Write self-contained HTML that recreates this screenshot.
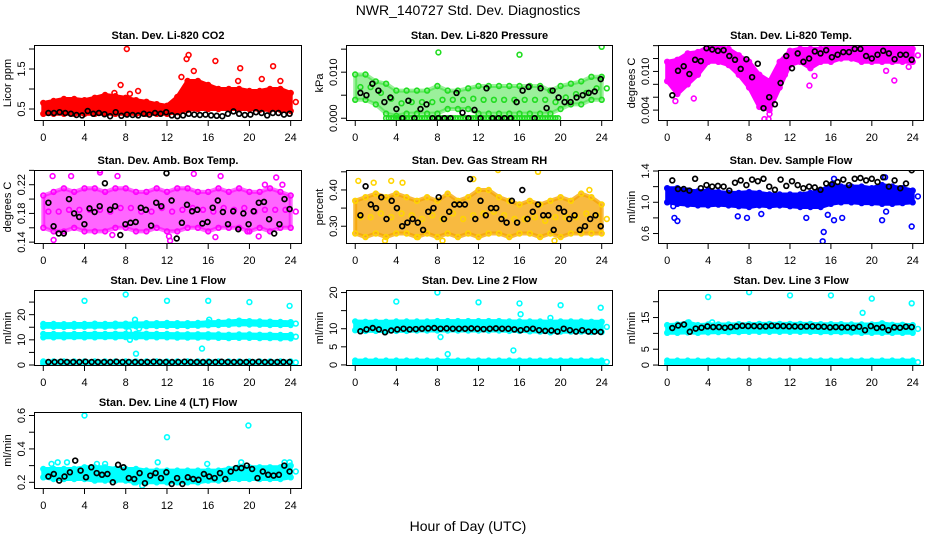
<!DOCTYPE html>
<html><head><meta charset="utf-8"><title>NWR_140727 Std. Dev. Diagnostics</title>
<style>
html,body{margin:0;padding:0;background:#fff;}
svg{display:block;font-family:"Liberation Sans",Arial,sans-serif;}
</style></head>
<body>
<svg id="chart" width="936" height="540" viewBox="0 0 936 540">
<text x="468" y="15" font-size="14" text-anchor="middle">NWR_140727  Std. Dev. Diagnostics</text>
<text x="468" y="531" font-size="14" text-anchor="middle">Hour of Day (UTC)</text>
</svg>
<script>
// ---------- data ----------
const HOURS = [0,1,2,3,4,5,6,7,8,9,10,11,12,13,14,15,16,17,18,19,20,21,22,23,24];
const X_TICKS = [0,4,8,12,16,20,24];

const co2Lo = [0.38,0.38,0.38,0.38,0.38,0.38,0.38,0.38,0.38,0.38,0.38,0.38,0.38,0.42,0.48,0.5,0.5,0.5,0.5,0.5,0.5,0.48,0.48,0.48,0.45];
const co2Hi = [0.65,0.7,0.75,0.75,0.72,0.78,0.85,0.82,0.78,0.72,0.68,0.62,0.58,0.8,1.2,1.2,1.1,1.0,1.0,1.0,0.95,0.95,1.0,1.0,0.9];
const co2OutX = [8.1,14.1,13.9,16.7,22.3,19.1,13.4,7.5,9.2,21.2,23,14.6,8.4,6.9,18.9];
const co2OutY = [2.0,1.85,1.75,1.7,1.57,1.52,1.3,1.1,0.95,1.25,1.2,1.45,0.88,0.9,1.2];
const co2Black = [0.4,0.4,0.42,0.4,0.38,0.35,0.34,0.45,0.38,0.4,0.37,0.32,0.42,0.33,0.36,0.35,0.34,0.38,0.36,0.4,0.38,0.42,0.34,0.32,0.34,0.38,0.36,0.35,0.36,0.34,0.33,0.32,0.38,0.44,0.38,0.35,0.36,0.42,0.4,0.34,0.4,0.4,0.36,0.38];

const presLo = [0.004,0.004,0.003,0.001,0.0005,0.001,0.001,0.001,0.001,0.002,0.002,0.002,0.001,0.001,0.001,0.001,0.001,0.001,0.001,0.001,0.002,0.003,0.003,0.004,0.004];
const presHi = [0.0095,0.0095,0.008,0.0075,0.006,0.006,0.006,0.006,0.007,0.006,0.006,0.0065,0.007,0.007,0.007,0.007,0.007,0.007,0.007,0.006,0.007,0.0075,0.008,0.009,0.009];
const presZero = [null,null,null,0,0,0,0,0,0,0,0,0,0,0,0,0,0,0,0,0,null,null,null,null,null];
const presOutX = [8.1,16,24];
const presOutY = [0.0143,0.0138,0.0155];
const presBlack = [0.0055,0.005,0.0075,0.006,0.0035,0.0045,0.002,0,0.0038,0,0.002,0.003,0,0,0,0,0.0055,0.0012,0,0.0018,0,0.0065,0,0,0,0,0.0035,0.006,0.0068,0,0.0065,0.0022,0.006,0.0045,0.0035,0.0035,0.0045,0.005,0.0055,0.0058,0.0085];

const tempLo = [0.0085,0.0065,0.008,0.0095,0.0115,0.0115,0.011,0.0095,0.0075,0.0045,0.004,0.0075,0.011,0.0115,0.0105,0.0115,0.0115,0.012,0.012,0.0115,0.0115,0.0115,0.0115,0.0115,0.0115];
const tempHi = [0.0115,0.0118,0.0128,0.013,0.0138,0.0138,0.0135,0.0125,0.0115,0.0095,0.0085,0.0115,0.0132,0.0135,0.0135,0.0135,0.0138,0.0138,0.014,0.014,0.014,0.014,0.014,0.014,0.0135];
const tempOutX = [9.5,9.9,10,0.8,2.6,14.4,13.9,21.4,22.2,23.6];
const tempOutY = [0.0026,0.0026,0.0034,0.0054,0.0058,0.0093,0.0078,0.0101,0.0086,0.0107];
const tempBlack = [0.0063,0.0101,0.0108,0.0096,0.0118,0.0116,0.0136,0.0134,0.0132,0.0133,0.0124,0.0118,0.0104,0.0119,0.0091,0.0112,0.0043,0.0060,0.0049,0.0082,0.0124,0.0105,0.0128,0.0115,0.0120,0.0131,0.0128,0.0133,0.0122,0.0126,0.0130,0.0130,0.0135,0.0135,0.0124,0.0120,0.0126,0.0132,0.0128,0.0119,0.0126,0.0126,0.0118];

const ambLo = [0.16,0.155,0.155,0.16,0.155,0.155,0.155,0.16,0.16,0.155,0.155,0.16,0.155,0.155,0.16,0.16,0.155,0.16,0.16,0.16,0.155,0.16,0.155,0.16,0.16];
const ambHi = [0.205,0.21,0.215,0.21,0.215,0.215,0.21,0.215,0.215,0.21,0.21,0.215,0.21,0.215,0.215,0.21,0.21,0.215,0.21,0.215,0.21,0.21,0.215,0.21,0.205];
const ambOutX = [1,0.9,2.7,5.5,5.5,6.7,7.2,12.3,12.2,14.6,16.7,17.2,19.8,21.5,22.6,23.2,20.9];
const ambOutY = [0.143,0.232,0.232,0.237,0.24,0.15,0.232,0.142,0.148,0.235,0.147,0.232,0.155,0.22,0.23,0.22,0.148];
const ambBlack = [0.195,0.162,0.152,0.152,0.200,0.180,0.175,0.165,0.187,0.182,0.190,0.222,0.185,0.190,0.150,0.165,0.167,0.168,0.188,0.185,0.163,0.195,0.190,0.236,0.198,0.145,0.167,0.192,0.183,0.185,0.166,0.168,0.188,0.198,0.182,0.165,0.183,0.158,0.180,0.165,0.183,0.195,0.196,0.172,0.152,0.165,0.200,0.186];

const rhLo = [0.28,0.27,0.28,0.27,0.28,0.28,0.27,0.28,0.27,0.28,0.27,0.28,0.27,0.28,0.28,0.27,0.28,0.28,0.27,0.28,0.27,0.28,0.28,0.28,0.28];
const rhHi = [0.37,0.38,0.39,0.38,0.39,0.38,0.37,0.38,0.37,0.39,0.37,0.38,0.4,0.4,0.38,0.37,0.36,0.37,0.36,0.37,0.38,0.37,0.39,0.38,0.36];
const rhOutX = [0.3,1.8,3.5,2.9,8.5,13.9,17.8,19.4,11.5,6.1,4.6,22.8];
const rhOutY = [0.425,0.42,0.425,0.26,0.26,0.455,0.45,0.26,0.43,0.27,0.42,0.4];
const rhBlack = [0.33,0.41,0.36,0.35,0.38,0.32,0.37,0.35,0.30,0.31,0.32,0.31,0.29,0.34,0.35,0.38,0.32,0.34,0.36,0.36,0.36,0.43,0.32,0.37,0.33,0.35,0.35,0.32,0.31,0.37,0.31,0.40,0.32,0.34,0.36,0.33,0.33,0.29,0.35,0.34,0.32,0.33,0.29,0.30,0.32,0.33,0.30];

const flowLo = [1.0,0.98,0.97,0.96,0.96,0.97,0.96,0.95,0.94,0.96,0.95,0.96,0.95,0.94,0.94,0.94,0.98,1.0,1.0,0.99,0.99,0.98,0.98,0.99,1.0];
const flowHi = [1.18,1.18,1.15,1.14,1.15,1.13,1.12,1.12,1.13,1.12,1.1,1.1,1.1,1.1,1.12,1.15,1.22,1.2,1.2,1.2,1.18,1.22,1.2,1.18,1.15];
const flowOutX = [0.7,1,6.9,7.8,9.2,13.6,15.3,15.2,15.7,16.3,17.1,21,21.4,23.9,21.3,16.3,0.6];
const flowOutY = [0.8,0.76,0.82,0.8,0.85,0.8,0.62,0.5,0.84,0.77,0.8,0.77,0.88,0.69,1.32,1.3,0.95];
const flowBlack = [1.28,1.17,1.17,1.15,1.3,1.18,1.22,1.2,1.21,1.2,1.15,1.25,1.28,1.22,1.29,1.27,1.3,1.2,1.16,1.29,1.21,1.27,1.22,1.18,1.2,1.19,1.16,1.24,1.23,1.26,1.29,1.22,1.3,1.31,1.28,1.3,1.26,1.32,1.2,1.28,1.18,1.24,1.41];

const l1UpLo = [15.2,15.2,15.1,15.2,15.2,15.3,15.2,15.3,15.3,15.4,15.4,15.5,15.5,15.5,15.5,15.6,15.8,15.9,16.0,16.2,16.1,16.0,15.9,15.9,15.9];
const l1UpHi = [16.3,16.3,16.2,16.3,16.3,16.4,16.3,16.4,16.4,16.5,16.6,16.6,16.7,16.6,16.6,16.7,17.0,17.1,17.3,17.6,17.4,17.3,17.2,17.1,17.0];
const l1MidLo = [11.0,11.0,11.0,11.1,11.0,11.0,11.1,11.0,11.1,11.0,11.0,11.0,11.0,10.9,10.9,10.9,10.9,10.8,10.7,10.8,10.8,10.7,10.7,10.6,10.6];
const l1MidHi = [12.3,12.3,12.2,12.3,12.3,12.4,12.3,12.4,12.4,12.4,12.4,12.3,12.3,12.2,12.2,12.2,12.2,12.1,12.0,12.1,12.1,12.0,12.0,11.9,11.9];
const l1LowLo = [0.6,0.6,0.6,0.6,0.6,0.6,0.6,0.6,0.6,0.6,0.6,0.6,0.6,0.6,0.6,0.6,0.6,0.6,0.6,0.6,0.6,0.6,0.6,0.6,0.6];
const l1LowHi = [1.4,1.4,1.4,1.4,1.4,1.4,1.4,1.4,1.4,1.4,1.4,1.4,1.4,1.4,1.4,1.4,1.4,1.4,1.4,1.4,1.4,1.4,1.4,1.4,1.4];
const l1OutX = [4,8,8.9,12,16,20,23.9,8.4,9,15.4,16.1,8.3,9.3];
const l1OutY = [25.5,28,18,25.5,25.5,25,23.5,10,4.5,6.5,18,13.5,14.5];
const l1Black = [1.2,1.2,1.3,1.2,1.2,1.2,1.3,1.2,1.2,1.2,1.2,1.3,1.2,1.2,1.2,1.2,1.2,1.3,1.2,1.2,1.2,1.2,1.3,1.2,1.2,1.2,1.2,1.2,1.3,1.2,1.2,1.2,1.2,1.2,1.3,1.2,1.2,1.2,1.2,1.2];

const l2UpLo = [9.6,9.4,9.4,9.3,9.4,9.4,9.5,9.5,9.5,9.5,9.5,9.5,9.5,9.5,9.5,9.4,9.4,9.3,9.2,9.0,9.2,9.2,9.2,9.1,9.1];
const l2UpHi = [12.0,11.9,11.9,11.9,12.0,12.0,12.0,12.0,12.1,12.1,12.1,12.1,12.1,12.1,12.1,12.0,12.0,12.0,12.0,11.9,12.0,12.0,12.0,11.9,11.9];
const l2LowLo = [0.4,0.4,0.4,0.4,0.4,0.4,0.4,0.4,0.4,0.4,0.4,0.4,0.4,0.4,0.4,0.4,0.4,0.4,0.4,0.4,0.4,0.4,0.4,0.4,0.4];
const l2LowHi = [1.2,1.2,1.2,1.2,1.2,1.2,1.2,1.2,1.2,1.2,1.2,1.2,1.2,1.2,1.2,1.2,1.2,1.2,1.2,1.2,1.2,1.2,1.2,1.2,1.2];
const l2OutX = [4,8,12,16,20,23.9,8.3,9,15.4,16.1,19];
const l2OutY = [17.5,20,17.3,17,16.5,15.8,7.7,3,4,14,13];
const l2Black = [9.3,9.8,10.2,9.8,9.0,9.5,9.8,10,9.8,9.9,10,10.1,10.2,10,10.1,10,10,10,10.1,10,9.9,10,10.1,10,10,9.8,9.6,9.9,10,9.6,9.4,9.5,9.2,10,9.6,9.2,9.6,9.2,9.2,9.1];

const l3UpLo = [10.2,10.2,10.3,10.2,10.3,10.4,10.4,10.4,10.5,10.5,10.5,10.5,10.5,10.5,10.5,10.4,10.4,10.4,10.3,10.2,10.2,10.2,10.2,10.2,10.2];
const l3UpHi = [12.6,12.8,13.4,12.6,12.8,12.8,12.8,12.9,12.9,13.0,13.0,13.0,13.0,13.0,13.0,12.9,12.9,12.9,12.8,12.8,12.8,13.2,12.7,12.7,12.6];
const l3LowLo = [0.4,0.4,0.4,0.4,0.4,0.4,0.4,0.4,0.4,0.4,0.4,0.4,0.4,0.4,0.4,0.4,0.4,0.4,0.4,0.4,0.4,0.4,0.4,0.4,0.4];
const l3LowHi = [1.4,1.4,1.4,1.4,1.4,1.4,1.4,1.4,1.4,1.4,1.4,1.4,1.4,1.4,1.4,1.4,1.4,1.4,1.4,1.4,1.4,1.4,1.4,1.4,1.4];
const l3OutX = [4,8,12,16,20,23.9,19.1,4.4,2.1];
const l3OutY = [21.5,23,22,22,21,19.5,16.5,13.5,13.5];
const l3Black = [11.7,12.5,12.8,10.5,11.5,11.8,12.2,12,12,11.8,12,12.2,12.4,12.3,12.3,12.2,12.2,12.4,12.3,12.3,12.2,12.2,12.1,12.2,12.2,12.1,12.1,11.9,12,11.9,11.9,11.8,12.1,11,12.3,11.7,11.9,11,11.9,11.8,12.1,12];

const l4Lo = [0.23,0.22,0.22,0.22,0.22,0.21,0.21,0.21,0.21,0.2,0.2,0.2,0.2,0.2,0.2,0.2,0.21,0.21,0.22,0.22,0.22,0.22,0.22,0.22,0.23];
const l4Hi = [0.28,0.28,0.28,0.28,0.29,0.29,0.29,0.28,0.28,0.28,0.27,0.27,0.27,0.27,0.27,0.27,0.27,0.27,0.28,0.29,0.29,0.29,0.29,0.29,0.3];
const l4OutX = [4,12,19.9,1.4,2.3,5.2,6,11.1,15.9,19.2,23.4,23.9,0.8,8.8,9.6];
const l4OutY = [0.6,0.47,0.54,0.32,0.32,0.31,0.31,0.32,0.31,0.32,0.32,0.32,0.31,0.2,0.18];
const l4Black = [0.235,0.25,0.21,0.235,0.26,0.33,0.27,0.23,0.29,0.255,0.245,0.25,0.2,0.305,0.29,0.225,0.22,0.255,0.195,0.24,0.255,0.225,0.26,0.19,0.225,0.19,0.23,0.22,0.215,0.25,0.235,0.225,0.255,0.22,0.265,0.285,0.285,0.3,0.28,0.225,0.265,0.245,0.24,0.245,0.3,0.265];

// ---------- rendering ----------
const NS = "http://www.w3.org/2000/svg";
const svg = document.getElementById("chart");
function mk(tag, attrs, parent){
  const e = document.createElementNS(NS, tag);
  for (const k in attrs) e.setAttribute(k, attrs[k]);
  (parent||svg).appendChild(e);
  return e;
}
const COLS = [[34,302],[346,613],[658,924]];
const ROWS = [[45,121],[170,244],[290,366],[412,489]];
const XMIN = -0.9, XMAX = 25.1;

const panels = [
 {key:"co2", title:"Stan. Dev. Li-820 CO2", ylab:"Licor ppm", c:0, r:0, ymin:0.2, ymax:2.1, ticks:[0.5,1,1.5,2], labels:{"0.5":"0.5","1.5":"1.5"}, color:"#ff0000", op:1,
  bands:[[co2Lo,co2Hi]], outX:co2OutX, outY:co2OutY, black:co2Black},
 {key:"pressure", title:"Stan. Dev. Li-820 Pressure", ylab:"kPa", c:1, r:0, ymin:-0.0006, ymax:0.0159, ticks:[0,0.005,0.01,0.015], labels:{"0":"0.000","0.01":"0.010"}, color:"#22dd22", op:0.45,
  bands:[[presLo,presHi]], zero:presZero, outX:presOutX, outY:presOutY, black:presBlack},
 {key:"temp", title:"Stan. Dev. Li-820 Temp.", ylab:"degrees C", c:2, r:0, ymin:0.00231, ymax:0.0141, ticks:[0.004,0.006,0.008,0.01,0.012,0.014], labels:{"0.004":"0.004","0.01":"0.010"}, color:"#ff00ff", op:1,
  bands:[[tempLo,tempHi]], outX:tempOutX, outY:tempOutY, black:tempBlack},
 {key:"ambbox", title:"Stan. Dev. Amb. Box Temp.", ylab:"degrees C", c:0, r:1, ymin:0.1374, ymax:0.2405, ticks:[0.14,0.16,0.18,0.2,0.22,0.24], labels:{"0.14":"0.14","0.18":"0.18","0.22":"0.22"}, color:"#ff00ff", op:0.6,
  bands:[[ambLo,ambHi]], outX:ambOutX, outY:ambOutY, black:ambBlack},
 {key:"rh", title:"Stan. Dev. Gas Stream RH", ylab:"percent", c:1, r:1, ymin:0.251, ymax:0.455, ticks:[0.3,0.35,0.4,0.45], labels:{"0.3":"0.30","0.4":"0.40"}, color:"#f5a300", stroke:"#ffd400", op:0.75,
  bands:[[rhLo,rhHi]], outX:rhOutX, outY:rhOutY, black:rhBlack},
 {key:"sampleflow", title:"Stan. Dev. Sample Flow", ylab:"ml/min", c:2, r:1, ymin:0.466, ymax:1.413, ticks:[0.6,0.8,1,1.2,1.4], labels:{"0.6":"0.6","1":"1.0","1.4":"1.4"}, color:"#0000ff", op:1,
  bands:[[flowLo,flowHi]], outX:flowOutX, outY:flowOutY, black:flowBlack},
 {key:"line1", title:"Stan. Dev. Line 1 Flow", ylab:"ml/min", c:0, r:2, ymin:-0.4, ymax:29.8, ticks:[0,5,10,15,20,25], labels:{"0":"0","10":"10","20":"20"}, color:"#00ffff", op:1,
  bands:[[l1UpLo,l1UpHi],[l1MidLo,l1MidHi],[l1LowLo,l1LowHi]], outX:l1OutX, outY:l1OutY, black:l1Black},
 {key:"line2", title:"Stan. Dev. Line 2 Flow", ylab:"ml/min", c:1, r:2, ymin:-0.3, ymax:20.7, ticks:[0,5,10,15,20], labels:{"0":"0","5":"5","10":"10","20":"20"}, color:"#00ffff", op:1,
  bands:[[l2UpLo,l2UpHi],[l2LowLo,l2LowHi]], outX:l2OutX, outY:l2OutY, black:l2Black},
 {key:"line3", title:"Stan. Dev. Line 3 Flow", ylab:"ml/min", c:2, r:2, ymin:-0.3, ymax:23.7, ticks:[0,5,10,15,20], labels:{"0":"0","5":"5","15":"15"}, color:"#00ffff", op:1,
  bands:[[l3UpLo,l3UpHi],[l3LowLo,l3LowHi]], outX:l3OutX, outY:l3OutY, black:l3Black},
 {key:"line4", title:"Stan. Dev. Line 4 (LT) Flow", ylab:"ml/min", c:0, r:3, ymin:0.16, ymax:0.621, ticks:[0.2,0.3,0.4,0.5,0.6], labels:{"0.2":"0.2","0.4":"0.4","0.6":"0.6"}, color:"#00ffff", op:1,
  bands:[[l4Lo,l4Hi]], outX:l4OutX, outY:l4OutY, black:l4Black}
];

panels.forEach(p => {
  const [L,R] = COLS[p.c], [T,B] = ROWS[p.r];
  const sx = v => L + (v - XMIN) / (XMAX - XMIN) * (R - L);
  const sy = v => B - (v - p.ymin) / (p.ymax - p.ymin) * (B - T);
  const g = mk("g", {});
  
  
  const clipId = "clip-" + p.key;
  const cp = mk("clipPath", {id:clipId}, g);
  mk("rect", {x:L, y:T, width:R-L, height:B-T}, cp);
  const marks = mk("g", {"clip-path":"url(#"+clipId+")"}, g);
  
  
  const stroke = p.stroke || p.color;
  const circ = (x, y, col, name) => {
    const c = mk("circle", {cx:sx(x).toFixed(1), cy:sy(y).toFixed(1), r:2.4, fill:"none", stroke:col, "stroke-width":1.6}, marks);
    
    
  };
  p.bands.forEach((bd, bi) => {
    const lo = bd[0], hi = bd[1];
    let pts = HOURS.map((h,i) => sx(h).toFixed(1)+","+sy(hi[i]).toFixed(1));
    pts = pts.concat(HOURS.slice().reverse().map((h,j) => { const i = HOURS.length-1-j; return sx(h).toFixed(1)+","+sy(lo[i]).toFixed(1); }));
    const poly = mk("polygon", {points:pts.join(" "), fill:p.color, "fill-opacity":p.op, stroke:p.color, "stroke-width":4, "stroke-opacity":p.op, "stroke-linejoin":"round"}, marks);
    
    
    HOURS.forEach((h,i) => {
      circ(h, lo[i], stroke, p.key + '-point');
      circ(h, hi[i], stroke, p.key + '-point');
      circ(h + 0.5, (lo[i] + hi[i]) / 2, stroke, p.key + '-point');
    });
  });
  if (p.zero) {
    p.zero.forEach((v,i) => {
      if (v === null) return;
      [0,0.25,0.5,0.75].forEach(o => circ(HOURS[i] + o, v, p.color, p.key + '-zero-point'));
    });
  }
  p.outX.forEach((x,i) => circ(x, p.outY[i], stroke, p.key + '-outlier'));
  const n = p.black.length;
  p.black.forEach((v,i) => {
    const t = 0.5 + i * (23.4 / (n - 1));
    const c = mk("circle", {cx:sx(t).toFixed(1), cy:sy(v).toFixed(1), r:2.4, fill:"none", stroke:"#000", "stroke-width":1.7}, marks);
    
    
  });
  const box = mk("rect", {x:L+0.5, y:T+0.5, width:R-L-1, height:B-T-1, fill:"none", stroke:"#000", "stroke-width":1}, g);
  
  
  X_TICKS.forEach(t => {
    const x = sx(t);
    mk("line", {x1:x, y1:B, x2:x, y2:B+5, stroke:"#000"}, g);
    const tx = mk("text", {x:x, y:B+20, "font-size":11, "text-anchor":"middle"}, g);
    tx.textContent = t;
    
    
  });
  p.ticks.forEach(t => {
    const y = sy(t);
    mk("line", {x1:L-5, y1:y, x2:L, y2:y, stroke:"#000"}, g);
    const lab = p.labels[String(t)];
    if (lab !== undefined) {
      const tx = mk("text", {x:0, y:0, "font-size":11, "text-anchor":"middle", transform:"translate("+(L-9)+","+y.toFixed(1)+") rotate(-90)"}, g);
      tx.textContent = lab;
      
      
    }
  });
  const yl = mk("text", {x:0, y:0, "font-size":11, "text-anchor":"middle", transform:"translate("+(L-23)+","+((T+B)/2)+") rotate(-90)"}, g);
  yl.textContent = p.ylab;
  
  
  const tt = mk("text", {x:(L+R)/2, y:T-6, "font-size":11, "font-weight":"bold", "text-anchor":"middle"}, g);
  tt.textContent = p.title;
  
  
});
</script>
</body></html>
